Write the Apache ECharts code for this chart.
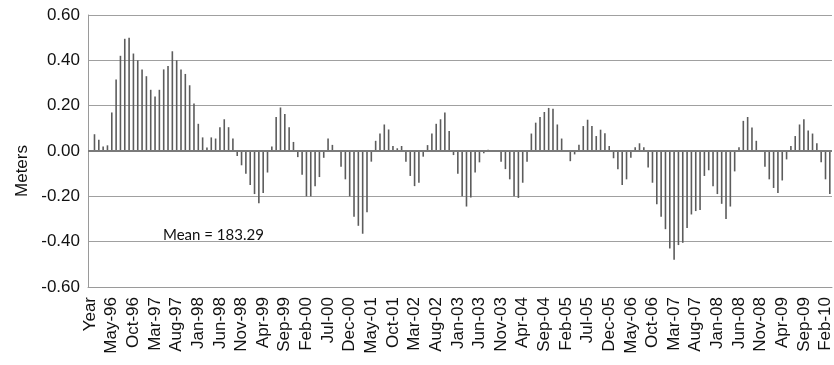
<!DOCTYPE html>
<html>
<head>
<meta charset="utf-8">
<script src="https://cdn.jsdelivr.net/npm/echarts@6/dist/echarts.min.js"></script>
<style>
  html, body { margin: 0; padding: 0; background: #ffffff; }
  #chart { width: 834px; height: 365px; }
</style>
</head>
<body>
<div id="chart"></div>
<script>
// Monthly water-level departures from the mean (meters), Jan of each year through Dec
const monthNames = ['Jan', 'Feb', 'Mar', 'Apr', 'May', 'Jun', 'Jul', 'Aug', 'Sep', 'Oct', 'Nov', 'Dec'];
const years = [1996, 1997, 1998, 1999, 2000, 2001, 2002, 2003, 2004, 2005, 2006, 2007, 2008, 2009, 2010];

const level1996 = [0.074, 0.05, 0.02, 0.025, 0.17, 0.315, 0.42, 0.495, 0.50, 0.43, 0.40, 0.36];
const level1997 = [0.33, 0.27, 0.24, 0.27, 0.36, 0.375, 0.44, 0.40, 0.36, 0.34, 0.29, 0.21];
const level1998 = [0.12, 0.06, 0.015, 0.06, 0.055, 0.105, 0.14, 0.105, 0.055, -0.022, -0.063, -0.10];
const level1999 = [-0.15, -0.19, -0.23, -0.185, -0.095, 0.02, 0.15, 0.192, 0.163, 0.105, 0.04, -0.027];
const level2000 = [-0.105, -0.20, -0.20, -0.155, -0.115, -0.03, 0.055, 0.027, 0.004, -0.07, -0.125, -0.20];
const level2001 = [-0.29, -0.33, -0.365, -0.27, -0.047, 0.045, 0.077, 0.117, 0.095, 0.022, 0.012, 0.022];
const level2002 = [-0.047, -0.11, -0.155, -0.14, -0.025, 0.026, 0.077, 0.12, 0.14, 0.17, 0.088, -0.018];
const level2003 = [-0.10, -0.20, -0.245, -0.205, -0.095, -0.05, -0.01, 0.005, -0.003, 0.003, -0.047, -0.08];
const level2004 = [-0.125, -0.20, -0.207, -0.14, -0.047, 0.077, 0.125, 0.15, 0.172, 0.19, 0.186, 0.117];
const level2005 = [0.055, 0.004, -0.045, -0.015, 0.028, 0.11, 0.138, 0.11, 0.066, 0.094, 0.078, 0.022];
const level2006 = [-0.032, -0.08, -0.15, -0.125, -0.03, 0.017, 0.034, 0.017, -0.073, -0.14, -0.235, -0.29];
const level2007 = [-0.345, -0.43, -0.48, -0.415, -0.405, -0.34, -0.28, -0.265, -0.26, -0.11, -0.085, -0.155];
const level2008 = [-0.19, -0.233, -0.30, -0.245, -0.09, 0.016, 0.133, 0.15, 0.104, 0.045, 0.003, -0.07];
const level2009 = [-0.125, -0.163, -0.185, -0.13, -0.037, 0.022, 0.066, 0.117, 0.14, 0.09, 0.077, 0.034];
const level2010 = [-0.05, -0.125, -0.19];

const levelsByYear = [level1996, level1997, level1998, level1999, level2000, level2001, level2002,
  level2003, level2004, level2005, level2006, level2007, level2008, level2009, level2010];

const yTicks = [-0.6, -0.4, -0.2, 0, 0.2, 0.4, 0.6];
const meanLabel = 'Mean = 183.29';

// First category is the header cell "Year" (no bar), then one category per month
const categories = ['Year'];
const values = [null];
levelsByYear.forEach(function (arr, yi) {
  arr.forEach(function (v, mi) {
    categories.push(monthNames[mi] + '-' + String(years[yi]).slice(2));
    values.push(v);
  });
});

const labelFont = 'Liberation Sans, Arial, sans-serif';

const chart = echarts.init(document.getElementById('chart'), null, { renderer: 'canvas' });

chart.setOption({
  animation: false,
  backgroundColor: '#ffffff',
  grid: { left: 88, right: 2, top: 15, bottom: 78, containLabel: false },
  xAxis: {
    type: 'category',
    data: categories,
    boundaryGap: true,
    axisLine: { show: true, onZero: false, lineStyle: { color: '#9a9a9a', width: 1 } },
    axisTick: { show: false },
    axisLabel: {
      interval: 4,
      rotate: 90,
      margin: 10,
      color: '#111111',
      fontFamily: labelFont,
      fontSize: 17
    },
    splitLine: { show: false }
  },
  yAxis: {
    type: 'value',
    min: yTicks[0],
    max: yTicks[yTicks.length - 1],
    interval: 0.2,
    name: 'Meters',
    nameLocation: 'middle',
    nameGap: 57,
    nameRotate: 90,
    nameTextStyle: {
      color: '#111111',
      fontFamily: labelFont,
      fontSize: 17,
      padding: [0, 0, 0, -40]
    },
    axisLine: { show: true, lineStyle: { color: '#9a9a9a', width: 1 } },
    axisTick: { show: false },
    axisLabel: {
      margin: 8,
      color: '#111111',
      fontFamily: labelFont,
      fontSize: 17,
      formatter: function (v) { return v.toFixed(2); }
    },
    splitLine: { show: true, lineStyle: { color: '#a0a0a0', width: 1 } }
  },
  series: [{
    type: 'bar',
    data: values,
    barWidth: 1.6,
    itemStyle: { color: '#5c5c5c' },
    markLine: {
      silent: true,
      symbol: 'none',
      label: { show: false },
      lineStyle: { color: '#7a7a7a', width: 2, type: 'solid' },
      data: [{ yAxis: 0 }]
    }
  }],
  graphic: [{
    type: 'text',
    left: 163,
    top: 228,
    style: {
      text: meanLabel,
      fill: '#111111',
      font: '15px Lato, "Open Sans", sans-serif'
    }
  }]
});
</script>
</body>
</html>
